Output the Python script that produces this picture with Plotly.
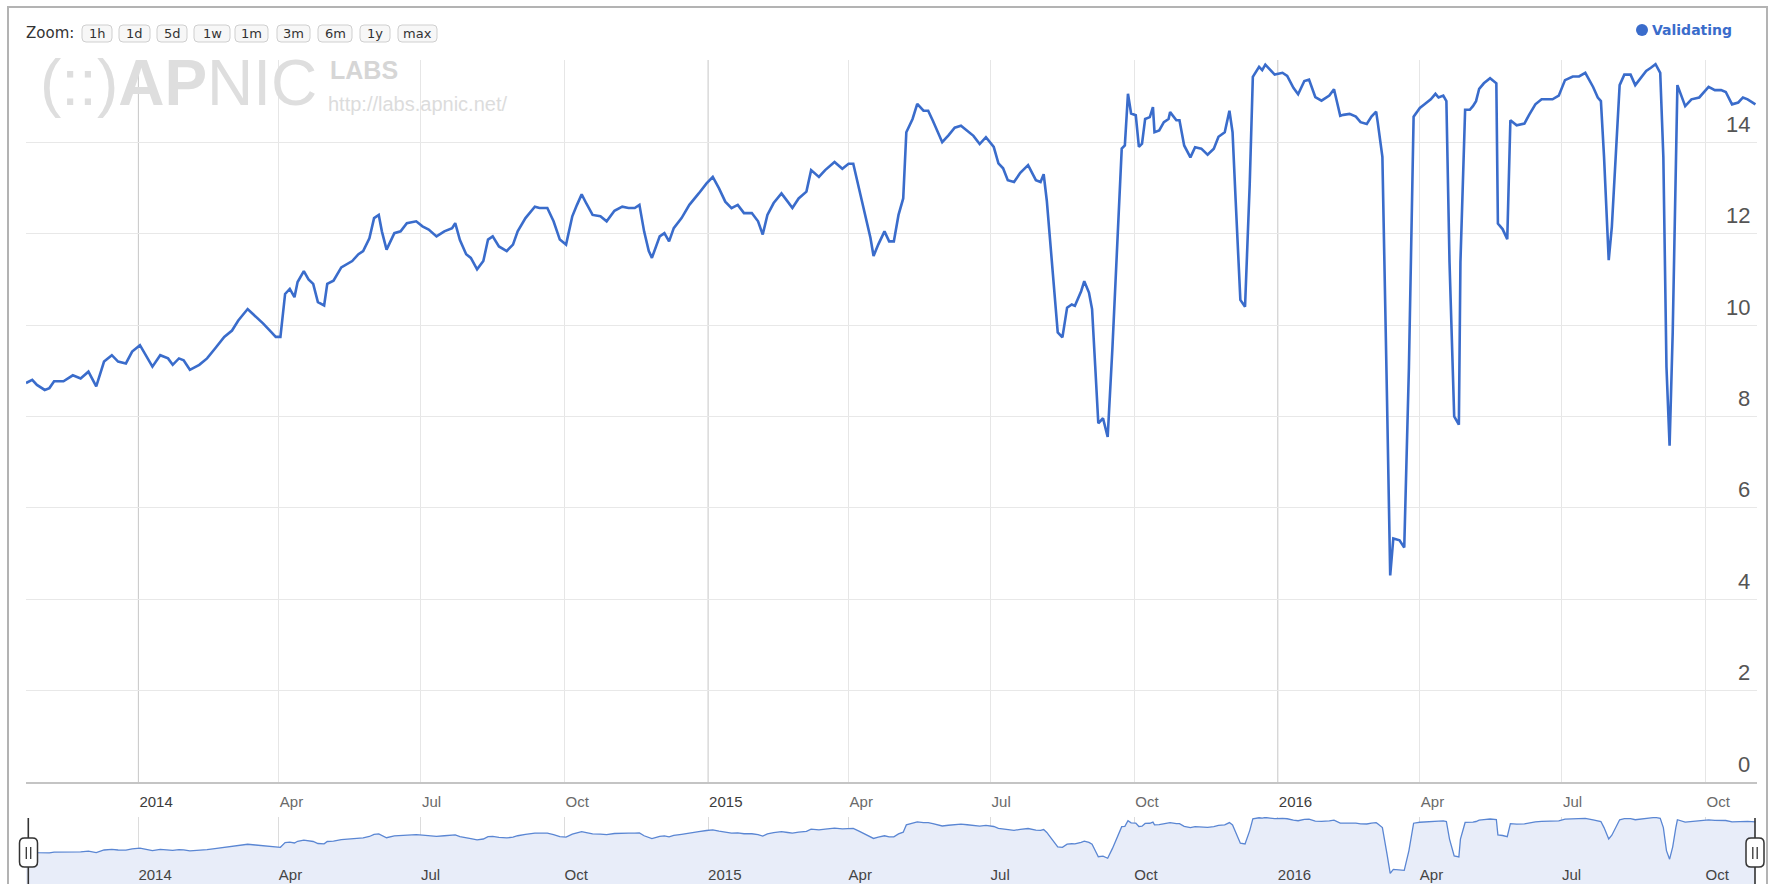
import plotly.graph_objects as go

# ---------------- data ----------------
dates = [
    "2013-10-21", "2013-10-25", "2013-10-28", "2013-11-02", "2013-11-05", "2013-11-08", "2013-11-14",
    "2013-11-20", "2013-11-25", "2013-11-30", "2013-12-05", "2013-12-10", "2013-12-15", "2013-12-19",
    "2013-12-24", "2013-12-28",
    "2014-01-02", "2014-01-06", "2014-01-10", "2014-01-15", "2014-01-20", "2014-01-23", "2014-01-27",
    "2014-01-30", "2014-02-03", "2014-02-09", "2014-02-14", "2014-02-19", "2014-02-25", "2014-03-02",
    "2014-03-06", "2014-03-12", "2014-03-17", "2014-03-22", "2014-03-27", "2014-03-30", "2014-04-02",
    "2014-04-05", "2014-04-08", "2014-04-11", "2014-04-13", "2014-04-17", "2014-04-20", "2014-04-23",
    "2014-04-26", "2014-04-30", "2014-05-02", "2014-05-06", "2014-05-11", "2014-05-15", "2014-05-18",
    "2014-05-22", "2014-05-25", "2014-05-29", "2014-06-01", "2014-06-04", "2014-06-06", "2014-06-09",
    "2014-06-14", "2014-06-18", "2014-06-22", "2014-06-28", "2014-07-02", "2014-07-06", "2014-07-11",
    "2014-07-16", "2014-07-21", "2014-07-23", "2014-07-26", "2014-07-30", "2014-08-02", "2014-08-06",
    "2014-08-10", "2014-08-13", "2014-08-16", "2014-08-20", "2014-08-25", "2014-08-29", "2014-09-01",
    "2014-09-06", "2014-09-12", "2014-09-15", "2014-09-20", "2014-09-24", "2014-09-28", "2014-10-02",
    "2014-10-06", "2014-10-09", "2014-10-12", "2014-10-15", "2014-10-19", "2014-10-24", "2014-10-28",
    "2014-11-02", "2014-11-07", "2014-11-11", "2014-11-15", "2014-11-18", "2014-11-21", "2014-11-24",
    "2014-11-26", "2014-12-01", "2014-12-04", "2014-12-07", "2014-12-10", "2014-12-15", "2014-12-20",
    "2014-12-26", "2014-12-31",
    "2015-01-04", "2015-01-08", "2015-01-12", "2015-01-16", "2015-01-20", "2015-01-24", "2015-01-29",
    "2015-02-02", "2015-02-05", "2015-02-08", "2015-02-12", "2015-02-17", "2015-02-21", "2015-02-24",
    "2015-02-28", "2015-03-05", "2015-03-08", "2015-03-13", "2015-03-17", "2015-03-23", "2015-03-28",
    "2015-04-01", "2015-04-04", "2015-04-08", "2015-04-12", "2015-04-15", "2015-04-17", "2015-04-20",
    "2015-04-24", "2015-04-27", "2015-04-30", "2015-05-03", "2015-05-06", "2015-05-08", "2015-05-12",
    "2015-05-15", "2015-05-19", "2015-05-22", "2015-05-25", "2015-05-28", "2015-05-31", "2015-06-04",
    "2015-06-08", "2015-06-12", "2015-06-16", "2015-06-20", "2015-06-24", "2015-06-28", "2015-07-03",
    "2015-07-06", "2015-07-09", "2015-07-12", "2015-07-16", "2015-07-20", "2015-07-25", "2015-07-30",
    "2015-08-02", "2015-08-04", "2015-08-06", "2015-08-09", "2015-08-13", "2015-08-16", "2015-08-19",
    "2015-08-22", "2015-08-24", "2015-08-28", "2015-08-30", "2015-09-02", "2015-09-04", "2015-09-06",
    "2015-09-08", "2015-09-11", "2015-09-14", "2015-09-17", "2015-09-20", "2015-09-23", "2015-09-25",
    "2015-09-27", "2015-09-29", "2015-10-02", "2015-10-04", "2015-10-06", "2015-10-08", "2015-10-11",
    "2015-10-13", "2015-10-14", "2015-10-17", "2015-10-20", "2015-10-23", "2015-10-24", "2015-10-28",
    "2015-10-30", "2015-11-02", "2015-11-06", "2015-11-09", "2015-11-13", "2015-11-17", "2015-11-21",
    "2015-11-24", "2015-11-28", "2015-12-01", "2015-12-03", "2015-12-05", "2015-12-08", "2015-12-11",
    "2015-12-14", "2015-12-16", "2015-12-20", "2015-12-22", "2015-12-24", "2015-12-27", "2015-12-30",
    "2016-01-04", "2016-01-07", "2016-01-11", "2016-01-14", "2016-01-18", "2016-01-21", "2016-01-25",
    "2016-01-29", "2016-02-03", "2016-02-06", "2016-02-10", "2016-02-12", "2016-02-16", "2016-02-20",
    "2016-02-23", "2016-02-27", "2016-03-01", "2016-03-04", "2016-03-05", "2016-03-08", "2016-03-11",
    "2016-03-13", "2016-03-15", "2016-03-19", "2016-03-22", "2016-03-25", "2016-03-28", "2016-04-01",
    "2016-04-04", "2016-04-08", "2016-04-11", "2016-04-13", "2016-04-16", "2016-04-18", "2016-04-20",
    "2016-04-23", "2016-04-26", "2016-04-27", "2016-04-30", "2016-05-03", "2016-05-05", "2016-05-07",
    "2016-05-09", "2016-05-12", "2016-05-16", "2016-05-20", "2016-05-21", "2016-05-24", "2016-05-27",
    "2016-05-29", "2016-06-02", "2016-06-07", "2016-06-10", "2016-06-14", "2016-06-18", "2016-06-25",
    "2016-06-29", "2016-07-03", "2016-07-08", "2016-07-12", "2016-07-16", "2016-07-21", "2016-07-24",
    "2016-07-26", "2016-07-28", "2016-07-31", "2016-08-02", "2016-08-07", "2016-08-10", "2016-08-14",
    "2016-08-17", "2016-08-21", "2016-08-24", "2016-08-27", "2016-08-30", "2016-09-02", "2016-09-04",
    "2016-09-06", "2016-09-08", "2016-09-10", "2016-09-12", "2016-09-13", "2016-09-18", "2016-09-22",
    "2016-09-27", "2016-10-03", "2016-10-07", "2016-10-11", "2016-10-14", "2016-10-18", "2016-10-22",
    "2016-10-25", "2016-10-28", "2016-11-02",
]

validating = [
    8.73, 8.80, 8.69, 8.58, 8.62, 8.77, 8.77,
    8.90, 8.83, 8.98, 8.66, 9.20, 9.34, 9.20,
    9.16, 9.42,
    9.56, 9.34, 9.09, 9.34, 9.27, 9.13, 9.27,
    9.23, 9.02, 9.13, 9.27, 9.48, 9.74, 9.88,
    10.10, 10.35, 10.20, 10.03, 9.85, 9.74, 9.74,
    10.68, 10.79, 10.61, 10.94, 11.18, 11.00, 10.90,
    10.50, 10.43, 10.90, 10.97, 11.26, 11.33, 11.40,
    11.55, 11.62, 11.90, 12.34, 12.41, 12.05, 11.65,
    12.01, 12.05, 12.23, 12.27, 12.16, 12.09, 11.94,
    12.05, 12.12, 12.23, 11.86, 11.55, 11.47, 11.22,
    11.40, 11.87, 11.94, 11.72, 11.62, 11.76, 12.05,
    12.34, 12.59, 12.56, 12.56, 12.27, 11.87, 11.76,
    12.38, 12.63, 12.86, 12.66, 12.41, 12.38, 12.27,
    12.50, 12.59, 12.56, 12.56, 12.63, 12.05, 11.62,
    11.47, 11.94, 12.01, 11.83, 12.12, 12.34, 12.63,
    12.88, 13.10,
    13.24, 12.99, 12.70, 12.56, 12.63, 12.45, 12.45,
    12.27, 11.98, 12.41, 12.67, 12.88, 12.70, 12.56,
    12.77, 12.92, 13.39, 13.24, 13.39, 13.57, 13.42,
    13.53, 13.53, 12.92, 12.34, 11.91, 11.51, 11.76,
    12.05, 11.83, 11.83, 12.41, 12.77, 14.22, 14.51,
    14.84, 14.69, 14.69, 14.47, 14.25, 14.00, 14.15,
    14.32, 14.36, 14.25, 14.14, 13.96, 14.11, 13.90,
    13.54, 13.43, 13.17, 13.13, 13.33, 13.50, 13.17,
    13.13, 13.30, 12.72, 11.47, 9.84, 9.73, 10.38,
    10.45, 10.42, 10.74, 10.96, 10.71, 10.35, 9.11,
    7.85, 7.96, 7.55, 9.47, 11.62, 13.86, 13.93,
    15.06, 14.63, 14.59, 13.90, 13.97, 14.51, 14.55,
    14.77, 14.22, 14.26, 14.44, 14.51, 14.66, 14.48,
    14.48, 13.93, 13.67, 13.89, 13.86, 13.73, 13.86,
    14.12, 14.22, 14.69, 14.22, 12.72, 10.55, 10.40,
    13.08, 15.43, 15.65, 15.58, 15.70, 15.59, 15.48,
    15.52, 15.45, 15.19, 15.05, 15.34, 15.37, 14.99,
    14.91, 15.02, 15.16, 14.58, 14.60, 14.62, 14.56,
    14.44, 14.40, 14.56, 14.67, 14.44, 13.68, 8.31,
    4.52, 5.33, 5.29, 5.13, 9.08, 14.56, 14.75,
    14.83, 14.94, 15.06, 14.98, 15.02, 14.90, 11.38,
    8.00, 7.82, 11.38, 14.71, 14.71, 14.79, 14.90,
    15.17, 15.29, 15.40, 15.29, 12.22, 12.10, 11.88,
    14.48, 14.37, 14.41, 14.60, 14.83, 14.94, 14.94,
    15.02, 15.36, 15.44, 15.44, 15.52, 15.21, 14.98,
    14.90, 13.68, 11.42, 12.15, 15.25, 15.48, 15.48,
    15.25, 15.44, 15.56, 15.63, 15.71, 15.52, 13.68,
    9.08, 7.36, 9.84, 13.68, 15.25, 14.79, 14.94,
    14.98, 15.21, 15.14, 15.14, 15.10, 14.83, 14.87,
    14.98, 14.94, 14.83,
]

tick_dates = ["2014-01-01", "2014-04-01", "2014-07-01", "2014-10-01",
              "2015-01-01", "2015-04-01", "2015-07-01", "2015-10-01",
              "2016-01-01", "2016-04-01", "2016-07-01", "2016-10-01"]
tick_labels = ["2014", "Apr", "Jul", "Oct", "2015", "Apr", "Jul", "Oct",
               "2016", "Apr", "Jul", "Oct"]
year_dates = ["2014-01-01", "2015-01-01", "2016-01-01"]
month_dates = [d for d in tick_dates if d not in year_dates]
y_ticks = [0, 2, 4, 6, 8, 10, 12, 14]
y_tick_labels = ["0", "2", "4", "6", "8", "10", "12", "14"]
zoom_buttons = ["1h", "1d", "5d", "1w", "1m", "3m", "6m", "1y", "max"]
series_name = "Validating"
x_range = ["2013-10-21", "2016-11-03"]

# ---------------- layout helpers (pixel -> paper) ----------------
W, H = 1775, 884
PL, PR, PT, PB = 26, 1757, 60, 884


def X(p):
    return (p - PL) / (PR - PL)


def Y(p):
    return (PB - p) / (PB - PT)


def rrect(x0, y0, x1, y1, r):
    return (f"M {X(x0 + r)},{Y(y0)} L {X(x1 - r)},{Y(y0)} Q {X(x1)},{Y(y0)} {X(x1)},{Y(y0 + r)} "
            f"L {X(x1)},{Y(y1 - r)} Q {X(x1)},{Y(y1)} {X(x1 - r)},{Y(y1)} "
            f"L {X(x0 + r)},{Y(y1)} Q {X(x0)},{Y(y1)} {X(x0)},{Y(y1 - r)} "
            f"L {X(x0)},{Y(y0 + r)} Q {X(x0)},{Y(y0)} {X(x0 + r)},{Y(y0)} Z")


LINE_COLOR = "#3a6ccb"
AXIS_FONT = "Liberation Sans, Arial, sans-serif"
UI_FONT = "DejaVu Sans, Verdana, sans-serif"

fig = go.Figure()

fig.add_trace(go.Scatter(
    x=dates, y=validating, mode="lines", name=series_name,
    line=dict(color=LINE_COLOR, width=2.6), xaxis="x", yaxis="y",
    showlegend=False, hoverinfo="skip"))

fig.add_trace(go.Scatter(
    x=dates, y=validating, mode="lines", name=series_name + " (navigator)",
    line=dict(color="#5a86d3", width=1.3), fill="tozeroy", fillcolor="#e8edf9",
    xaxis="x2", yaxis="y2", showlegend=False, hoverinfo="skip"))

year_lbl = [f"<span style='color:#3c3c3c'>{t}</span>" if t.isdigit() else t for t in tick_labels]

fig.update_layout(
    width=W, height=H,
    margin=dict(l=PL, r=W - PR, t=PT, b=H - PB),
    paper_bgcolor="white", plot_bgcolor="white",
    showlegend=False,
    font=dict(family=AXIS_FONT, color="#555"),
    xaxis=dict(
        type="date", range=x_range, anchor="y", domain=[0, 1],
        tickmode="array", tickvals=tick_dates, ticktext=year_lbl,
        ticklabelposition="outside right", ticks="", ticklabelstandoff=5,
        tickfont=dict(size=15, color="#6a6a6a", family=AXIS_FONT),
        showgrid=False,
        minor=dict(tickmode="array", tickvals=month_dates, showgrid=True,
                   gridcolor="#e6e6e6", gridwidth=1, ticks=""),
        showline=True, linecolor="#c4c4c4", linewidth=2, zeroline=False,
    ),
    yaxis=dict(
        range=[0, 15.8], domain=[Y(782), 1], anchor="x", side="right",
        tickmode="array", tickvals=y_ticks, ticks="", showticklabels=False,
        showgrid=True, gridcolor="#e8e8e8", gridwidth=1, zeroline=False, showline=False,
    ),
    xaxis2=dict(
        type="date", range=x_range, anchor="y2", domain=[0, 1],
        tickmode="array", tickvals=tick_dates, ticktext=tick_labels,
        ticklabelposition="inside right", ticks="", ticklabelstandoff=-5,
        tickfont=dict(size=15, color="#444", family=AXIS_FONT),
        showgrid=True, gridcolor="#dcdcdc", gridwidth=1, zeroline=False, showline=False,
    ),
    yaxis2=dict(
        range=[2.4, 15.8], domain=[0, Y(817)], anchor="x2",
        showgrid=False, showticklabels=False, zeroline=False, ticks="",
    ),
)

shapes = []
# year gridlines (darker)
for d in year_dates:
    shapes.append(dict(type="line", xref="x", yref="y domain", x0=d, x1=d, y0=0, y1=1,
                       line=dict(color="#c6c6c6", width=1), layer="below"))

# navigator handles
for hx, rx0, rx1 in [(28.3, 19.5, 37.5), (1755, 1746, 1764)]:
    shapes.append(dict(type="line", xref="paper", yref="paper", x0=X(hx), x1=X(hx),
                       y0=Y(818), y1=Y(886), line=dict(color="#333", width=1.6)))
    shapes.append(dict(type="path", xref="paper", yref="paper", path=rrect(rx0, 838, rx1, 867, 5),
                       fillcolor="white", line=dict(color="#333", width=1.5)))
    cx = (rx0 + rx1) / 2
    for off in (-2.2, 2.2):
        shapes.append(dict(type="line", xref="paper", yref="paper", x0=X(cx + off), x1=X(cx + off),
                           y0=Y(847), y1=Y(859), line=dict(color="#333", width=1.3)))

# range selector buttons
btn_x = [(82, 112), (119, 150), (157, 187), (194, 230), (235, 268),
         (277, 310), (318, 352), (360, 390), (398, 437)]
for (bx0, bx1) in btn_x:
    shapes.append(dict(type="path", xref="paper", yref="paper", path=rrect(bx0, 25, bx1, 42, 4),
                       fillcolor="#f7f7f7", line=dict(color="#cfcfcf", width=1)))

# legend dot
shapes.append(dict(type="circle", xref="paper", yref="paper", x0=X(1636), x1=X(1648),
                   y0=Y(36), y1=Y(24), fillcolor=LINE_COLOR, line=dict(width=0)))

# outer frame
shapes.append(dict(type="rect", xref="paper", yref="paper", x0=X(8), x1=X(1767),
                   y0=Y(895), y1=Y(7), line=dict(color="#b3b3b3", width=2), fillcolor="rgba(0,0,0,0)"))

annotations = []
# y-axis tick labels (inside, right, above their gridlines)
for v, t in zip(y_ticks, y_tick_labels):
    annotations.append(dict(xref="paper", yref="y", x=X(1752), y=v, text=t, showarrow=False,
                            xanchor="right", yanchor="middle", yshift=18,
                            font=dict(family=AXIS_FONT, size=22, color="#555")))
for (bx0, bx1), lbl in zip(btn_x, zoom_buttons):
    annotations.append(dict(xref="paper", yref="paper", x=X((bx0 + bx1) / 2), y=Y(33.5),
                            text=lbl, showarrow=False, xanchor="center", yanchor="middle",
                            font=dict(family=UI_FONT, size=13, color="#333")))
annotations.append(dict(xref="paper", yref="paper", x=X(24), y=Y(33), text="Zoom:",
                        showarrow=False, xanchor="left", yanchor="middle",
                        font=dict(family=UI_FONT, size=15, color="#333")))
annotations.append(dict(xref="paper", yref="paper", x=X(1650), y=Y(30), text=f"<b>{series_name}</b>",
                        showarrow=False, xanchor="left", yanchor="middle",
                        font=dict(family=UI_FONT, size=14, color=LINE_COLOR)))
# watermark
annotations.append(dict(xref="paper", yref="paper", x=X(38), y=Y(83), text="(::)<b>AP</b>NIC",
                        showarrow=False, xanchor="left", yanchor="middle",
                        font=dict(family=AXIS_FONT, size=64, color="#dedede")))
annotations.append(dict(xref="paper", yref="paper", x=X(328), y=Y(70), text="<b>LABS</b>",
                        showarrow=False, xanchor="left", yanchor="middle",
                        font=dict(family=AXIS_FONT, size=25, color="#d6d6d6")))
annotations.append(dict(xref="paper", yref="paper", x=X(326), y=Y(104), text="http://labs.apnic.net/",
                        showarrow=False, xanchor="left", yanchor="middle",
                        font=dict(family=AXIS_FONT, size=20, color="#dcdcdc")))

fig.update_layout(shapes=shapes, annotations=annotations)

fig.write_html(
    "out.html",
    config={"displayModeBar": False},
    post_script="document.documentElement.style.margin='0';document.body.style.margin='0';"
                "document.body.style.overflow='hidden';",
)
